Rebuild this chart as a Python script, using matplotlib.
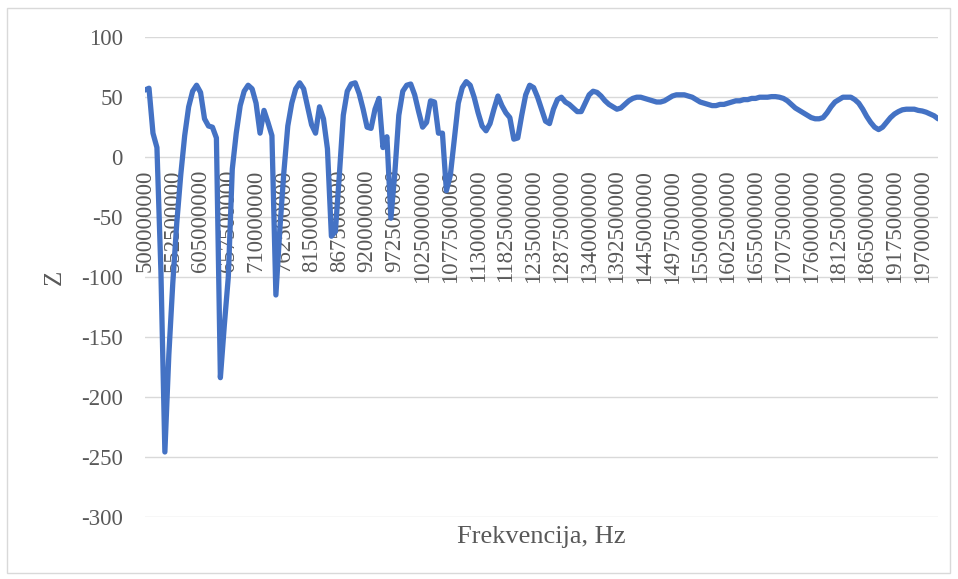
import numpy as np
import matplotlib
matplotlib.use("Agg")
import matplotlib.pyplot as plt
from matplotlib.patches import Rectangle

# frequency sweep: 500 MHz .. 2000 MHz, 7.5 MHz step (201 points)
FREQ_START = 500000000
FREQ_STOP = 2000000000
FREQ_STEP = 7500000

Z = [
    56, 57.5, 20, 8, -95, -246, -165, -105, -55, -15,
    18, 42, 55, 60, 54, 32, 26, 25, 16, -184,
    -140, -100, -10, 20, 43, 55, 60, 57, 45, 20,
    39, 29, 18, -115, -60, -13, 26, 45, 57, 62,
    57, 42, 27, 20, 42, 32, 7, -66, -62, -15,
    35, 55, 61, 62, 53, 40, 25, 24, 40, 49,
    8, 17, -51, -13, 35, 55, 60, 61, 52, 38,
    25, 29, 47, 46, 20, 20, -28, -15, 15, 45,
    58, 63, 60, 50, 37, 26, 22, 28, 40, 51,
    43, 37, 33, 15, 16, 35, 52, 60, 58, 50,
    40, 30, 28, 40, 48, 50, 46, 44, 41, 38,
    38, 45, 52, 55, 54, 51, 47, 44, 42, 40,
    41, 44, 47, 49, 50, 50, 49, 48, 47, 46,
    46, 47, 49, 51, 52, 52, 52, 51, 50, 48,
    46, 45, 44, 43, 43, 44, 44, 45, 46, 47,
    47, 48, 48, 49, 49, 50, 50, 50, 50.5, 50.5,
    50, 49, 47, 44, 41, 39, 37, 35, 33, 32,
    32, 33, 37, 42, 46, 48, 50, 50, 50, 48,
    45, 40, 34, 29, 25, 23, 25, 29, 33, 36,
    38, 39.5, 40, 40, 40, 39, 38.5, 37.5, 36, 34.5,
    32,
]

TICK_LABELS = [
    "500000000", "552500000", "605000000", "657500000", "710000000",
    "762500000", "815000000", "867500000", "920000000", "972500000",
    "1025000000", "1077500000", "1130000000", "1182500000", "1235000000",
    "1287500000", "1340000000", "1392500000", "1445000000", "1497500000",
    "1550000000", "1602500000", "1655000000", "1707500000", "1760000000",
    "1812500000", "1865000000", "1917500000", "1970000000",
]

Y_TICKS = [-300, -250, -200, -150, -100, -50, 0, 50, 100]

freq = np.arange(FREQ_START, FREQ_STOP + 1, FREQ_STEP)

plt.rcParams["font.family"] = ["Liberation Serif", "DejaVu Serif"]
TXT = "#595959"
GRID = "#d9d9d9"

fig = plt.figure(figsize=(9.58, 5.79), dpi=100)
ax = fig.add_axes([0.1514, 0.1076, 0.8278, 0.828])

# category axis sits on the zero line (set before tick styling, it resets ticks)
for s in ax.spines.values():
    s.set_visible(False)
ax.spines["bottom"].set_position(("data", 0))

for y in Y_TICKS:
    ax.axhline(y, color=GRID, linewidth=1.0, zorder=1)

ax.plot(freq, Z, color="#4472C4", linewidth=3.8,
        solid_capstyle="round", solid_joinstyle="round", zorder=3)

ax.set_xlim(freq[0], freq[-1])
ax.set_ylim(-300, 100)

ax.set_yticks(Y_TICKS)
ax.set_yticklabels([str(v) for v in Y_TICKS])
ax.tick_params(axis="y", length=0, pad=16, labelsize=16.5, labelcolor=TXT)

ax.set_xticks(freq[::7])
ax.set_xticklabels(TICK_LABELS)
ax.tick_params(axis="x", length=0, pad=9, labelsize=16.5, labelcolor=TXT,
               labelrotation=90)
for lab in ax.get_xticklabels():
    lab.set_va("top")
    lab.set_ha("center")

fig.text(55 / 958, 1 - 277 / 579, "Z", rotation=90, ha="center", va="center",
         fontsize=18, color=TXT)
fig.text(541 / 958, 1 - 537 / 579, "Frekvencija, Hz", ha="center", va="center",
         fontsize=19, color=TXT)

fig.patches.append(Rectangle((7 / 958, 1 - 573 / 579), 943 / 958, 565 / 579,
                             transform=fig.transFigure, fill=False,
                             edgecolor=GRID, linewidth=1.0))

fig.savefig("out.png", dpi=100)
